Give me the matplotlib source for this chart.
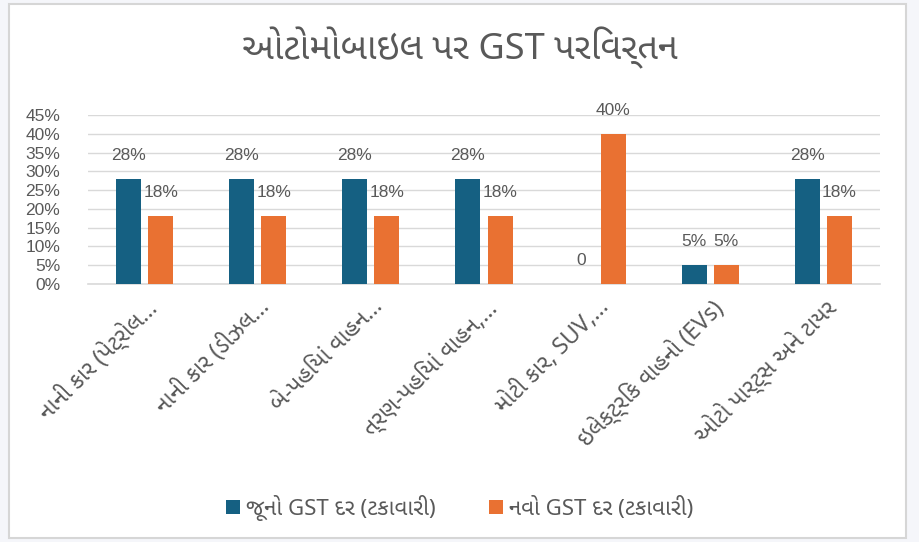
#!/usr/bin/env python

import matplotlib
matplotlib.use('Agg')
import matplotlib.pyplot as plt
import numpy as np
from matplotlib import font_manager
from matplotlib.patches import Rectangle


TITLE = 'ઓટોમોબાઇલ પર GST પરિવર્તન'
CATEGORIES = [
    'નાની કાર (પેટ્રોલ…',
    'નાની કાર (ડીઝલ…',
    'બે-પહિયાં વાહન…',
    'ત્રણ-પહિયાં વાહન,…',
    'મોટી કાર, SUV,…',
    'ઇલેક્ટ્રિક વાહનો (EVs)',
    'ઓટો પાર્ટ્સ અને ટાયર',
]
OLD_RATE = [28, 28, 28, 28, 0, 5, 28]
NEW_RATE = [18, 18, 18, 18, 40, 5, 18]
OLD_LABELS = ['28%', '28%', '28%', '28%', '0', '5%', '28%']
NEW_LABELS = ['18%', '18%', '18%', '18%', '40%', '5%', '18%']
SERIES_NAMES = ['જૂનો GST દર (ટકાવારી)', 'નવો GST દર (ટકાવારી)']
Y_TICKS = [0, 5, 10, 15, 20, 25, 30, 35, 40, 45]

BLUE = '#156082'
ORANGE = '#E97132'
TEXT = '#595959'
GRID = '#D9D9D9'

# Gujarati-capable families, best looking first
PREFERRED = ['Noto Sans Gujarati', 'Anek Gujarati', 'Farsan', 'FreeSerif', 'Unifont']
installed = {f.name for f in font_manager.fontManager.ttflist}
guj = [n for n in PREFERRED if n in installed][:1]

GUJ_FONT = guj + ['DejaVu Sans']
NUM_FONT = ['Liberation Sans', 'DejaVu Sans']
plt.rcParams['font.family'] = GUJ_FONT

fig = plt.figure(figsize=(9.2, 5.42), dpi=100, facecolor='#F5F6FA')
fig.patches.append(Rectangle((9 / 920, 4 / 542), 897 / 920, 534 / 542,
                             transform=fig.transFigure, facecolor='white',
                             edgecolor='#D6D6D6', lw=1.5, zorder=-5))

ax = fig.add_axes([88 / 920, 1 - 284 / 542, 792 / 920, 169 / 542])
ax.set_facecolor('none')

x = np.arange(len(CATEGORIES))
off, w = 0.142, 0.22
b1 = ax.bar(x - off, OLD_RATE, w, color=BLUE, label=SERIES_NAMES[0], zorder=3)
b2 = ax.bar(x + off, NEW_RATE, w, color=ORANGE, label=SERIES_NAMES[1], zorder=3)

for bars, labels in ((b1, OLD_LABELS), (b2, NEW_LABELS)):
    for bar, lab in zip(bars, labels):
        ax.annotate(lab, (bar.get_x() + bar.get_width() / 2, bar.get_height()),
                    xytext=(0, 17), textcoords='offset points',
                    ha='center', va='center', fontsize=12.5, color=TEXT,
                    family=NUM_FONT)

ax.set_xlim(-0.5, len(CATEGORIES) - 0.5)
ax.set_ylim(0, 45)
ax.set_yticks(Y_TICKS)
ax.set_yticklabels([f'{v}%' for v in Y_TICKS], family=NUM_FONT)
ax.grid(axis='y', color=GRID, lw=1, zorder=0)
for s in ['top', 'right', 'left']:
    ax.spines[s].set_visible(False)
ax.spines['bottom'].set_color(GRID)
ax.spines['bottom'].set_linewidth(1.2)
ax.tick_params(axis='both', length=0, colors=TEXT, labelsize=12.5)
ax.tick_params(axis='y', pad=20)

ax.set_xticks(x)
ax.set_xticklabels(CATEGORIES, rotation=45, ha='right', rotation_mode='anchor',
                   fontsize=16.5)
ax.tick_params(axis='x', pad=8)

fig.text(0.5, 1 - 48 / 542, TITLE, ha='center', va='center',
         fontsize=26, color=TEXT)

fig.legend(handles=[b1, b2], loc='center', bbox_to_anchor=(0.5, 1 - 508 / 542),
           ncol=2, frameon=False, fontsize=16, labelcolor=TEXT,
           handlelength=0.6, handleheight=0.6, handletextpad=0.3,
           columnspacing=2.4)

plt.savefig('out.png', dpi=100, facecolor=fig.get_facecolor())
